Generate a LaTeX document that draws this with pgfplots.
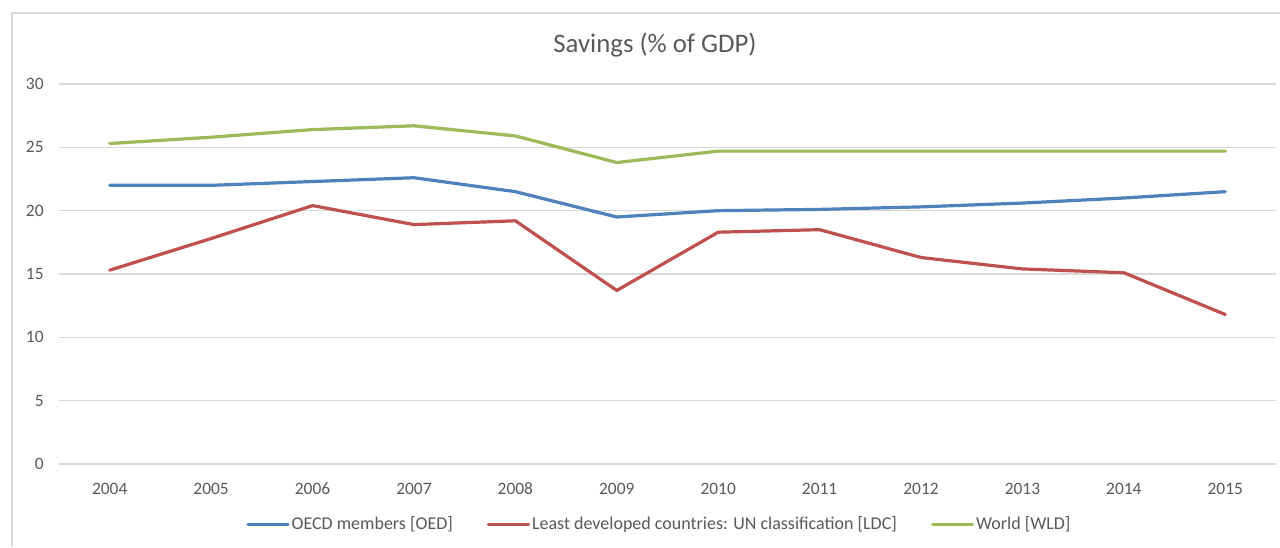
\documentclass[border=0pt]{standalone}
\usepackage{pgfplots}
\pgfplotsset{compat=1.18}
\usepackage{fontspec}
\setmainfont{Carlito}
\definecolor{oecd}{HTML}{4F81BD}
\definecolor{ldc}{HTML}{C0504D}
\definecolor{wld}{HTML}{9BBB59}
\definecolor{gridc}{HTML}{D9D9D9}
\definecolor{txt}{HTML}{595959}
\begin{document}
\begin{tikzpicture}
\useasboundingbox (0,0) rectangle (640pt,273.5pt);
\fill[white] (0,0) rectangle (640pt,273.5pt);
\draw[gridc, line width=0.8pt] (6pt,0) -- (6pt,267pt) -- (640pt,267pt);
\node[text=txt, font=\fontsize{13.4}{15}\selectfont] at (327.5pt,251pt) {Savings (\% of GDP)};
\begin{axis}[
  at={(29.5pt,41.5pt)}, anchor=south west,
  scale only axis, width=608.5pt, height=190pt,
  xmin=-0.5, xmax=11.5, ymin=0, ymax=30,
  xtick={0,...,11},
  xticklabels={2004,2005,2006,2007,2008,2009,2010,2011,2012,2013,2014,2015},
  ytick={0,5,10,15,20,25,30},
  axis line style={draw=none},
  major tick length=0pt,
  ymajorgrids, major grid style={gridc, line width=0.8pt},
  /pgf/number format/assume math mode=true,
  tick label style={text=txt, font=\fontsize{8.7}{10}\selectfont},
  xticklabel style={anchor=center, yshift=-12.5pt},
  yticklabel style={anchor=east, inner sep=0pt, xshift=-7.5pt},
  legend columns=3,
  legend style={at={(0.4934,-0.16)}, anchor=center, draw=none, fill=none,
    font=\fontsize{9}{11}\selectfont, text=txt,
    nodes={inner xsep=1pt, inner ysep=0pt},
    /tikz/every even column/.append style={column sep=16pt}},
  legend image code/.code={\draw[#1] (0pt,0pt) -- (20pt,0pt);},
  every axis plot/.append style={line width=1.6pt, line join=round, line cap=round},
]
\addplot[oecd] coordinates {(0,22.0) (1,22.0) (2,22.3) (3,22.6) (4,21.5) (5,19.5) (6,20.0) (7,20.1) (8,20.3) (9,20.6) (10,21.0) (11,21.5)};
\addlegendentry{OECD members [OED]}
\addplot[ldc] coordinates {(0,15.3) (1,17.8) (2,20.4) (3,18.9) (4,19.2) (5,13.7) (6,18.3) (7,18.5) (8,16.3) (9,15.4) (10,15.1) (11,11.8)};
\addlegendentry{Least developed countries: UN classification [LDC]}
\addplot[wld] coordinates {(0,25.3) (1,25.8) (2,26.4) (3,26.7) (4,25.9) (5,23.8) (6,24.7) (7,24.7) (8,24.7) (9,24.7) (10,24.7) (11,24.7)};
\addlegendentry{World [WLD]}
\end{axis}
\end{tikzpicture}
\end{document}
